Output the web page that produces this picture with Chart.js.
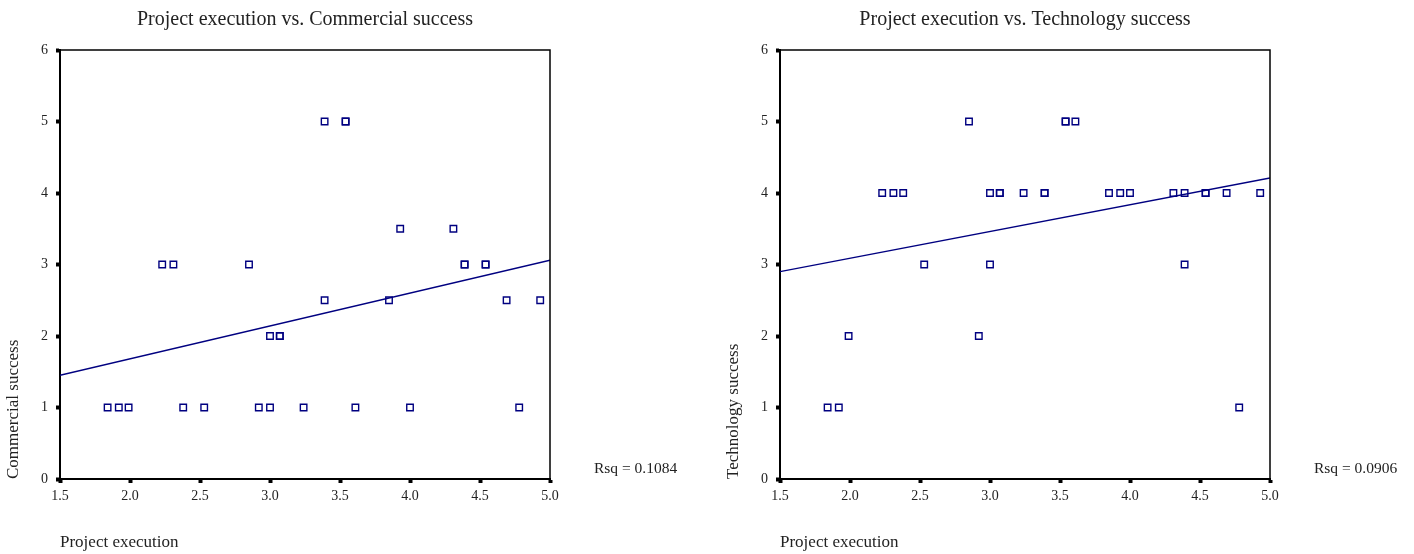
<!DOCTYPE html>
<html>
<head>
<meta charset="utf-8">
<script src="https://cdn.jsdelivr.net/npm/chart.js@4/dist/chart.umd.min.js"></script>
<style>
    body { margin: 0; background: #fff; width: 1414px; height: 554px; position: relative; overflow: hidden; }
    canvas { position: absolute; top: 0; }
    #commercialChart { left: 0; }
    #technologyChart { left: 720px; }
</style>
</head>
<body>
<canvas id="commercialChart" width="700" height="554"></canvas>
<canvas id="technologyChart" width="694" height="554"></canvas>
<script>
// project execution score, same projects in both plots
const projectExecution = [1.84, 1.92, 1.99, 2.23, 2.31, 2.38, 2.53, 2.85, 2.92, 3.00, 3.00, 3.07, 3.07, 3.24, 3.39,
    3.39, 3.54, 3.54, 3.61, 3.85, 3.93, 4.00, 4.31, 4.39, 4.39, 4.54, 4.54, 4.69, 4.78, 4.93];
const commercialSuccess = [1, 1, 1, 3, 3, 1, 1, 3, 1, 1, 2, 2, 2, 1, 5,
    2.5, 5, 5, 1, 2.5, 3.5, 1, 3.5, 3, 3, 3, 3, 2.5, 1, 2.5];
const technologySuccess = [1, 1, 2, 4, 4, 4, 3, 5, 2, 3, 4, 4, 4, 4, 4,
    4, 5, 5, 5, 4, 4, 4, 4, 4, 3, 4, 4, 4, 1, 4];

// fit lines as read at the ends of the x range
const fitX = [1.5, 5.0];
const commercialFit = [1.45, 3.06];
const technologyFit = [2.9, 4.21];

const commercialRsq = 'Rsq = 0.1084';
const technologyRsq = 'Rsq = 0.0906';

const serif = '"Liberation Serif", "DejaVu Serif", serif';
const navy = '#000080';

const rsqLabel = {
    id: 'rsqLabel',
    afterDraw(chart, args, opts) {
        const ctx = chart.ctx;
        const area = chart.chartArea;
        ctx.save();
        ctx.font = '15.5px ' + serif;
        ctx.fillStyle = '#222';
        ctx.textBaseline = 'middle';
        ctx.fillText(opts.text, area.right + 44, area.bottom - 10);
        ctx.restore();
    }
};

const frame = {
    id: 'frame',
    afterDatasetsDraw(chart) {
        const ctx = chart.ctx;
        const a = chart.chartArea;
        ctx.save();
        ctx.strokeStyle = '#000';
        ctx.lineWidth = 1.5;
        ctx.beginPath();
        ctx.moveTo(a.left, a.top);
        ctx.lineTo(a.right, a.top);
        ctx.lineTo(a.right, a.bottom);
        ctx.stroke();
        ctx.restore();
    }
};

function makeChart(canvasId, title, yTitle, yValues, fit, rsq, rightPad) {
    const points = projectExecution.map(function (x, i) {
        return { x: x, y: yValues[i] };
    });
    const line = fitX.map(function (x, i) {
        return { x: x, y: fit[i] };
    });

    return new Chart(document.getElementById(canvasId), {
        type: 'scatter',
        data: {
            datasets: [{
                data: points,
                pointStyle: 'rect',
                pointRadius: 4.6,
                pointHoverRadius: 4.6,
                borderColor: navy,
                backgroundColor: 'rgba(0,0,0,0)',
                borderWidth: 1.4
            }, {
                type: 'line',
                data: line,
                borderColor: navy,
                borderWidth: 1.4,
                pointRadius: 0,
                fill: false
            }]
        },
        options: {
            responsive: false,
            animation: false,
            devicePixelRatio: 1,
            layout: { padding: { left: 0, right: rightPad, top: 0, bottom: 0 } },
            plugins: {
                legend: { display: false },
                tooltip: { enabled: false },
                title: {
                    display: true,
                    fullSize: false,
                    text: title,
                    color: '#222',
                    font: { family: serif, size: 20, weight: 'normal' },
                    padding: { top: 8, bottom: 18 }
                },
                rsqLabel: { text: rsq }
            },
            scales: {
                x: {
                    type: 'linear',
                    min: 1.5,
                    max: 5.0,
                    afterFit: function (scale) { scale.height = 75; },
                    ticks: {
                        stepSize: 0.5,
                        padding: 5,
                        color: '#222',
                        font: { family: serif, size: 14 },
                        callback: function (v) { return v.toFixed(1); }
                    },
                    grid: {
                        drawOnChartArea: false,
                        drawTicks: true,
                        tickLength: 4,
                        tickWidth: 4,
                        tickColor: '#000'
                    },
                    border: { display: true, color: '#000', width: 2 },
                    title: {
                        display: true,
                        text: 'Project execution',
                        align: 'start',
                        color: '#222',
                        font: { family: serif, size: 17 },
                        padding: { top: 0, bottom: 1 }
                    }
                },
                y: {
                    type: 'linear',
                    min: 0,
                    max: 6,
                    afterFit: function (scale) { scale.width = 60; },
                    ticks: {
                        stepSize: 1,
                        padding: 8,
                        color: '#222',
                        font: { family: serif, size: 14 }
                    },
                    grid: {
                        drawOnChartArea: false,
                        drawTicks: true,
                        tickLength: 4,
                        tickWidth: 4,
                        tickColor: '#000'
                    },
                    border: { display: true, color: '#000', width: 2 },
                    title: {
                        display: true,
                        text: yTitle,
                        align: 'start',
                        color: '#222',
                        font: { family: serif, size: 17 },
                        padding: { top: 3, bottom: 0 }
                    }
                }
            }
        },
        plugins: [rsqLabel, frame]
    });
}

makeChart('commercialChart', 'Project execution vs. Commercial success', 'Commercial success',
    commercialSuccess, commercialFit, commercialRsq, 150);
makeChart('technologyChart', 'Project execution vs. Technology success', 'Technology success',
    technologySuccess, technologyFit, technologyRsq, 144);
</script>
</body>
</html>
